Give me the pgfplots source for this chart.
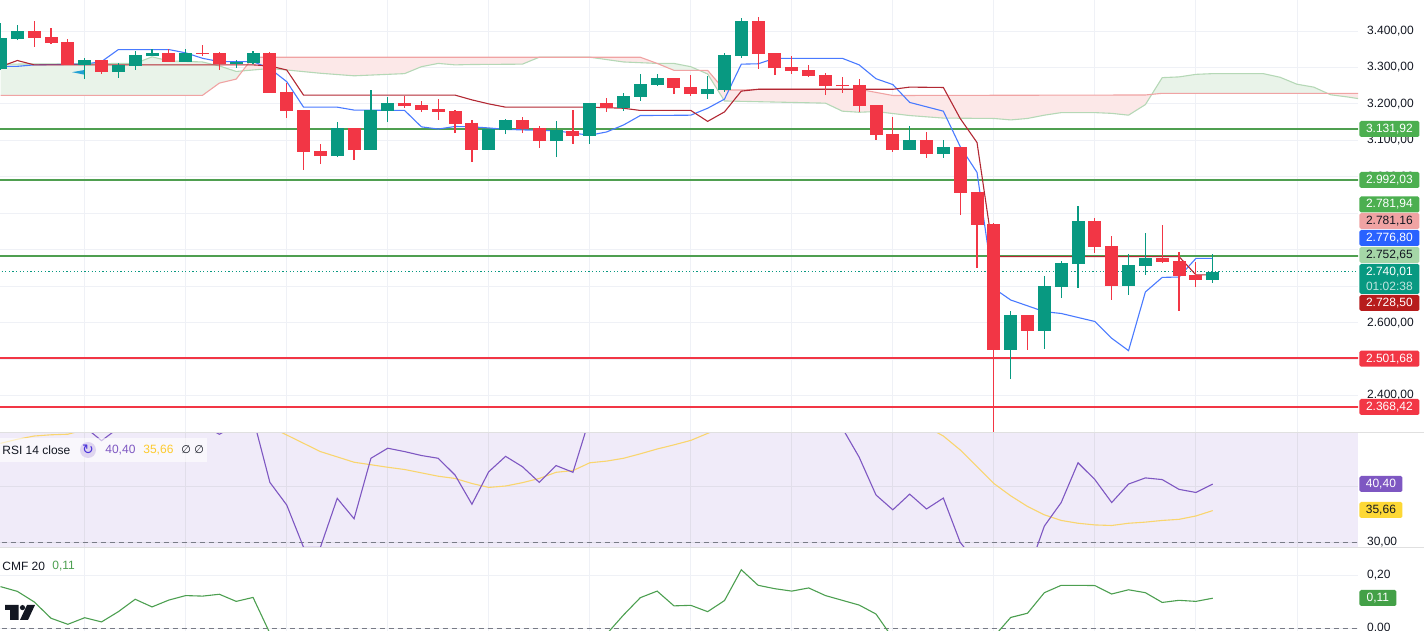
\documentclass[border=0pt]{standalone}
\usepackage{fontspec}
\setmainfont{Liberation Sans}
\newfontfamily\symfont{DejaVu Sans}
\usepackage{pgfplots}
\usepackage{pgfplotstable}
\pgfplotsset{compat=1.18}

\definecolor{up}{HTML}{089981}
\definecolor{down}{HTML}{F23645}
\definecolor{tickc}{HTML}{131722}
\definecolor{gridc}{HTML}{EFF1F6}
\definecolor{gridr}{HTML}{E1DEEA}
\definecolor{conv}{HTML}{2962FF}
\definecolor{base}{HTML}{B22833}
\definecolor{spana}{HTML}{B5D8B6}
\definecolor{spanb}{HTML}{F0A3A3}
\definecolor{cloudg}{HTML}{E9F3E9}
\definecolor{cloudr}{HTML}{FCE8E8}
\definecolor{lvlg}{HTML}{4F9F50}
\definecolor{tagg}{HTML}{4CAF50}
\definecolor{tagr}{HTML}{B71C1C}
\definecolor{tagy}{HTML}{FDD835}
\definecolor{tagl}{HTML}{A5D6A7}
\definecolor{rsibg}{HTML}{F0EBF9}
\definecolor{rsil}{HTML}{7E57C2}
\definecolor{rsima}{HTML}{F9D56E}
\definecolor{cmfl}{HTML}{4C9F50}
\definecolor{cmft}{HTML}{43A047}
\definecolor{dashc}{HTML}{787B86}

% i, body low, body high, wick low, wick high
\pgfplotstableread{
i bl bh wl wh
0 3297 3381 3293 3421
1 3378 3400 3375 3416
5 3307 3320 3268 3326
7 3287 3307 3271 3312
8 3304 3334 3293 3345
9 3331 3340 3331 3351
11 3315 3340 3315 3351
14 3309 3315 3298 3320
15 3312 3340 3309 3345
20 3057 3134 3054 3150
22 3074 3183 3074 3238
23 3181 3202 3150 3219
29 3074 3131 3074 3131
30 3128 3156 3117 3159
33 3098 3128 3054 3153
35 3112 3202 3090 3202
37 3189 3222 3181 3230
38 3219 3255 3208 3282
39 3252 3271 3249 3282
42 3227 3241 3213 3277
43 3238 3334 3233 3340
44 3331 3427 3326 3436
54 3074 3101 3074 3139
56 3063 3082 3052 3101
60 2525 2621 2445 2632
62 2577 2700 2528 2728
63 2698 2763 2667 2769
64 2761 2879 2695 2920
67 2700 2758 2676 2788
68 2755 2777 2731 2846
72 2717 2740 2709 2788
}\upcandles
\pgfplotstableread{
i bl bh wl wh
2 3381 3400 3357 3427
3 3367 3384 3364 3408
4 3307 3370 3307 3378
6 3287 3320 3282 3320
10 3315 3340 3315 3351
12 3337 3340 3331 3362
13 3309 3340 3293 3342
16 3230 3340 3230 3342
17 3181 3233 3161 3256
18 3068 3183 3019 3183
19 3057 3071 3035 3090
21 3074 3134 3046 3134
24 3194 3202 3189 3222
25 3183 3197 3178 3208
26 3178 3186 3156 3213
27 3145 3181 3120 3183
28 3074 3148 3041 3156
31 3131 3156 3120 3164
32 3098 3134 3079 3139
34 3112 3126 3090 3183
36 3189 3202 3178 3216
40 3244 3271 3227 3271
41 3227 3246 3222 3279
45 3337 3427 3296 3438
46 3298 3340 3279 3340
47 3290 3301 3282 3331
48 3277 3293 3274 3307
49 3249 3279 3224 3285
50 3249 3252 3230 3274
51 3194 3252 3178 3268
52 3115 3197 3101 3197
53 3074 3117 3068 3164
55 3063 3101 3052 3123
57 2956 3082 2895 3082
58 2868 2958 2750 2958
59 2525 2871 2298 2873
61 2577 2621 2525 2621
65 2807 2879 2791 2887
66 2700 2810 2662 2838
69 2766 2777 2763 2868
70 2728 2769 2632 2794
71 2717 2731 2698 2766
}\downcandles

\newcommand{\tagbox}[4]{% y in px from top, fill, text colour, text
  \node[fill=#2,text=#3,rounded corners=0.8pt,anchor=west,inner sep=0pt,
        minimum width=30pt,minimum height=8pt,align=center,font=\fontsize{6}{7}\selectfont]
        at (679.5pt,{(631-#1)*0.5pt}) {#4};}

\begin{document}
\begin{tikzpicture}
\path[use as bounding box] (0,0) rectangle (712pt,315.5pt);

\pgfplotsset{
  panel/.style={
    scale only axis, width=679pt,
    xmin=-0.03, xmax=80.63,
    xtick={5,11,...,77}, xticklabel=\empty,
    xmajorgrids, ymajorgrids, grid style={gridc,line width=0.4pt},
    axis line style={draw=none}, tickwidth=0pt,
    yticklabel pos=right,
    yticklabel style={font=\fontsize{6}{7}\selectfont,text=tickc,anchor=west,xshift=1pt},
    /pgf/number format/.cd, fixed, fixed zerofill, precision=2,
      1000 sep={.}, dec sep={,}, assume math mode=true,
    /pgfplots/.cd,
  },
  candle/.style n args={2}{draw=none,no markers,error bars/.cd,y dir=plus,y explicit,error mark=none,
      error bar style={draw=#1,line width=#2},/pgfplots/.cd},
}

% price panel
\begin{axis}[panel, at={(0,99.25pt)}, anchor=south west, height=216.25pt,
    ymin=2298.5, ymax=3485, ytick={2400,2500,...,3400},
    yticklabels={{2.400,00},{},{2.600,00},{},{},{},{3.000,00},{3.100,00},{3.200,00},{3.300,00},{3.400,00}}]
  % ichimoku cloud
  \addplot[fill=cloudg,draw=none] coordinates {(0,3309)(8,3311)(9,3329)(10,3318)(12,3315)(13,3304)(14,3289)(14.375,3290.5)(14,3268)(13,3257)(12,3223.5)(0,3223.5)} --cycle;
  \addplot[fill=cloudr,draw=none] coordinates {(14.375,3290.5)(15,3328)(38,3328)(39,3311)(37,3315)(35,3328)(32,3328)(31,3309)(28,3308)(27,3307)(26,3311)(25,3302)(24,3283)(21,3277)(19,3284)(17,3293)(16,3297)(15,3293)} --cycle;
  \addplot[fill=cloudg,draw=none] coordinates {(39,3311)(40,3311)(41,3302)(41.5,3292)(40,3292)} --cycle;
  \addplot[fill=cloudr,draw=none] coordinates {(41.5,3292)(42,3292)(43,3238)(44,3238)(45,3240)(51,3240)(53,3223)(68,3224.4)(68.38,3226)(68,3198)(67,3169)(66,3174)(65,3176)(63,3176)(62,3169)(61,3160)(60,3156)(59,3160)(56,3161)(54,3168)(52,3179)(51,3177)(50,3180)(49,3202)(45,3206)(43,3208)(42,3282)} --cycle;
  \addplot[fill=cloudg,draw=none] coordinates {(68.38,3226)(69,3272)(70,3274)(71,3281)(72,3283)(75,3283)(76,3273)(77,3254)(78,3246)(78.81,3229)(69,3229)} --cycle;
  \addplot[fill=cloudr,draw=none] coordinates {(78.81,3229)(81,3229)(81,3214)(80,3219)(79,3225)} --cycle;
  % span A
  \addplot[spana,line width=0.55pt] coordinates {(0,3309)(8,3311)(9,3329)(10,3318)(12,3315)(13,3304)(14,3289)(15,3293)(16,3297)(17,3293)(19,3284)(21,3277)(24,3283)(25,3302)(26,3311)(27,3307)(28,3308)(31,3309)(32,3328)(35,3328)(37,3315)(39,3311)(40,3311)(41,3302)(42,3282)(43,3208)(45,3206)(49,3202)(50,3180)(51,3177)(52,3179)(54,3168)(56,3161)(59,3160)(60,3156)(61,3160)(62,3169)(63,3176)(65,3176)(66,3174)(67,3169)(68,3198)(69,3272)(70,3274)(71,3281)(72,3283)(75,3283)(76,3273)(77,3254)(78,3246)(79,3225)(80,3219)(81,3212)};
  % span B
  \addplot[spanb,line width=0.55pt] coordinates {(0,3223.5)(12,3223.5)(13,3257)(14,3268)(15,3328)(38,3328)(39,3311)(40,3292)(42,3292)(43,3238)(44,3238)(45,3240)(51,3240)(53,3223)(68,3224.4)(69,3229)(81,3229)};
  % small marker left of the grid line
  \addplot[fill=cyan!70!teal,draw=none] coordinates {(4.25,3287)(5,3293)(5,3280)} --cycle;
  % levels
  \addplot[lvlg,line width=1pt] coordinates {(-1,3131.92)(81,3131.92)};
  \addplot[lvlg,line width=1pt] coordinates {(-1,2992.03)(81,2992.03)};
  \addplot[lvlg,line width=1pt] coordinates {(-1,2781.94)(81,2781.94)};
  \addplot[down,line width=1pt] coordinates {(-1,2501.68)(81,2501.68)};
  \addplot[down,line width=1pt] coordinates {(-1,2368.42)(81,2368.42)};
  \addplot[draw=up,line width=0.6pt,dash pattern=on 0.6pt off 1.2pt] coordinates {(-1,2740.01)(81,2740.01)};
  % conversion line
  \addplot[conv!85!white,line width=0.55pt] coordinates {(0,3303)(1,3303)(2,3307)(5,3309)(6,3316)(7,3349)(10,3349)(11,3340)(12,3325)(13,3316)(15,3316)(16,3297)(17,3261)(18,3191)(20,3191)(21,3183)(24,3182)(25,3137)(26,3131)(27,3138)(28,3137)(29,3134)(30,3130)(33,3126)(35,3114)(36,3123)(37,3142)(38,3168)(41,3169)(42,3188)(43,3213)(44,3309)(45,3310)(46,3325)(50,3325)(51,3307)(52,3269)(53,3253)(54,3204)(55,3192)(56,3180)(57,3083)(58,3012)(59,2694)(60,2662)(61,2646)(62,2630)(63,2625)(64,2614)(65,2603)(66,2557)(67,2523)(68,2684)(69,2724)(70,2725)(71,2776)(72,2776)};
  % base line
  \addplot[base,line width=0.55pt] coordinates {(0,3302)(1,3319)(2,3307)(15,3307)(16,3304)(17,3293)(18,3224)(27,3224)(28,3211)(29,3200)(30,3191)(35,3191)(37,3188)(38,3182)(41,3182)(42,3152)(43,3178)(44,3235)(45,3240)(53,3240)(54,3246)(56,3245)(57,3160)(58,3094)(59,2781)(70,2781)(71,2731)(72,2731)};
  % candles
  \addplot[candle={up}{0.6pt}]
      table[x=i,y=wl,y error plus expr=\thisrow{wh}-\thisrow{wl}] {\upcandles};
  \addplot[candle={down}{0.6pt}]
      table[x=i,y=wl,y error plus expr=\thisrow{wh}-\thisrow{wl}] {\downcandles};
  \addplot[candle={up}{6.5pt}]
      table[x=i,y=bl,y error plus expr=\thisrow{bh}-\thisrow{bl}] {\upcandles};
  \addplot[candle={down}{6.5pt}]
      table[x=i,y=bl,y error plus expr=\thisrow{bh}-\thisrow{bl}] {\downcandles};
\end{axis}

% RSI panel
\begin{axis}[panel, at={(0,41.5pt)}, anchor=south west, height=57.5pt,
    ymin=28.98, ymax=49.52, ytick={30,40},
    yticklabels={{30,00},{}},
    grid style={gridr,line width=0.4pt},
    axis background/.style={fill=rsibg}]
  \addplot[dashc,line width=0.45pt,dash pattern=on 2.5pt off 2pt] coordinates {(-1,30)(81,30)};
  \addplot[rsima,line width=0.55pt] coordinates {(0,47.67)(1,48.4)(2,48.98)(3,49.2)(4,49.3)(5,50.1)(16,50.65)(17,49.16)(19,46.2)(21,44.3)(23,43.4)(24,43)(25,42.4)(26,41.8)(27,41.4)(28,40.5)(29,39.8)(30,40.05)(31,40.65)(32,41.4)(33,42.5)(34,42.8)(35,44.2)(36,44.5)(37,45)(38,45.8)(39,46.66)(40,47.4)(41,48.2)(42,49.45)(43,50.65)(55,50.65)(56,48.98)(57,46.5)(58,43.5)(59,40.5)(60,38.3)(61,36.4)(62,34.9)(63,33.9)(64,33.4)(65,33.1)(66,33)(67,33.4)(68,33.6)(69,33.9)(70,34.1)(71,34.7)(72,35.66)};
  \addplot[rsil,line width=0.55pt] coordinates {(5,50.6)(6,48.15)(7,50.4)(12,50.9)(13,49.3)(14,50.9)(15,52.25)(16,40.7)(17,36.66)(18,29.1)(19,29.1)(20,37.85)(21,34.2)(22,45)(23,46.8)(24,46.2)(25,45.5)(26,45)(27,42)(28,36.8)(29,42.6)(30,45.35)(31,43.5)(32,40.7)(33,43.7)(34,42.5)(35,52.2)(50,50.4)(51,45.2)(52,38.45)(53,35.8)(54,38.6)(55,35.95)(56,37.9)(57,30)(58,26.2)(61,24.45)(62,32.9)(63,37.1)(64,44.2)(65,41.2)(66,37.1)(67,40.4)(68,41.5)(69,41.2)(70,39.45)(71,38.9)(72,40.4)};
\end{axis}

% CMF panel
\begin{axis}[panel, at={(0,0pt)}, anchor=south west, height=41.5pt,
    ymin=-0.0114, ymax=0.3036, ytick={0,0.2}]
  \addplot[dashc,line width=0.45pt,dash pattern=on 2.5pt off 2pt] coordinates {(-1,0)(81,0)};
  \addplot[cmfl,line width=0.55pt] coordinates {(0,0.157)(1,0.139)(2,0.099)(3,0.037)(4,0.014)(5,0.039)(6,0.023)(7,0.062)(8,0.109)(9,0.080)(10,0.106)(11,0.123)(12,0.121)(13,0.128)(14,0.101)(15,0.116)(16,-0.020)(17,-0.058)(35,-0.058)(36,-0.023)(37,0.049)(38,0.115)(39,0.140)(40,0.084)(41,0.086)(42,0.062)(43,0.104)(44,0.221)(45,0.162)(46,0.149)(47,0.140)(48,0.152)(49,0.123)(50,0.105)(51,0.087)(52,0.053)(53,-0.039)(54,-0.058)(58,-0.058)(59,-0.033)(60,0.040)(61,0.056)(62,0.134)(63,0.162)(64,0.162)(65,0.161)(66,0.129)(67,0.145)(68,0.134)(69,0.097)(70,0.105)(71,0.101)(72,0.113)};
\end{axis}

% panel separators
\draw[black!12,line width=0.5pt] (0,99pt) -- (712pt,99pt);
\draw[black!12,line width=0.5pt] (0,41.5pt) -- (712pt,41.5pt);

% price tags
\tagbox{129}{tagg}{white}{3.131,92}
\tagbox{180}{tagg}{white}{2.992,03}
\tagbox{204.5}{tagg}{white}{2.781,94}
\tagbox{221}{spanb}{tickc}{2.781,16}
\tagbox{238}{conv}{white}{2.776,80}
\tagbox{255}{tagl}{tickc}{2.752,65}
\node[fill=up,rounded corners=0.8pt,anchor=west,inner sep=0pt,minimum width=30pt,minimum height=15pt,
      align=center,text=white,font=\fontsize{6}{7.2}\selectfont] at (679.5pt,{(631-279)*0.5pt})
      {2.740,01\\\textcolor{white!75!up}{01:02:38}};
\tagbox{303}{tagr}{white}{2.728,50}
\tagbox{358.7}{down}{white}{2.501,68}
\tagbox{407}{down}{white}{2.368,42}
% indicator tags
\node[fill=rsil,text=white,rounded corners=0.8pt,anchor=west,inner sep=0pt,minimum width=21.5pt,minimum height=8pt,font=\fontsize{6}{7}\selectfont] at (679.5pt,{(631-484)*0.5pt}) {40,40};
\node[fill=tagy,text=tickc,rounded corners=0.8pt,anchor=west,inner sep=0pt,minimum width=21.5pt,minimum height=8pt,font=\fontsize{6}{7}\selectfont] at (679.5pt,{(631-510)*0.5pt}) {35,66};
\node[fill=cmft,text=white,rounded corners=0.8pt,anchor=west,inner sep=0pt,minimum width=18.5pt,minimum height=8pt,font=\fontsize{6}{7}\selectfont] at (679.5pt,{(631-598)*0.5pt}) {0,11};

% indicator legends
\fill[white,opacity=0.6] (0,{(631-462)*0.5pt}) rectangle (103.5pt,{(631-438)*0.5pt});
\node[anchor=west,inner sep=0pt,text=tickc,font=\fontsize{6}{7}\selectfont] at (1pt,{(631-450)*0.5pt}) {RSI 14 close};
\fill[rsil!25!white] (44pt,{(631-450)*0.5pt}) circle (4pt);
\node[inner sep=0pt,text=rsil!60!blue,font=\symfont\fontsize{7}{7}\selectfont] at (44pt,{(631-450)*0.5pt}) {↻};
\node[anchor=west,inner sep=0pt,text=rsil,font=\fontsize{6}{7}\selectfont] at (52.5pt,{(631-450)*0.5pt}) {40,40};
\node[anchor=west,inner sep=0pt,text=tagy!85!orange,font=\fontsize{6}{7}\selectfont] at (71.5pt,{(631-450)*0.5pt}) {35,66};
\node[anchor=west,inner sep=0pt,text=tickc,font=\symfont\fontsize{5.5}{7}\selectfont] at (90.5pt,{(631-450)*0.5pt}) {∅};
\node[anchor=west,inner sep=0pt,text=tickc,font=\symfont\fontsize{5.5}{7}\selectfont] at (97pt,{(631-450)*0.5pt}) {∅};
\node[anchor=west,inner sep=0pt,text=tickc,font=\fontsize{6}{7}\selectfont] at (1pt,{(631-566)*0.5pt}) {CMF 20};
\node[anchor=west,inner sep=0pt,text=cmfl,font=\fontsize{6}{7}\selectfont] at (26pt,{(631-566)*0.5pt}) {0,11};

% logo
\begin{scope}[x=0.5pt,y=-0.5pt,yshift=315.5pt]
  \fill[tickc] (5,605) -- (18.5,605) -- (18.5,620) -- (10,620) -- (10,610) -- (5,610) -- cycle;
  \fill[tickc] (22.5,607.6) circle (2.6);
  \fill[tickc] (27,605) -- (35,605) -- (28,620) -- (20,620) -- cycle;
\end{scope}
\end{tikzpicture}
\end{document}
